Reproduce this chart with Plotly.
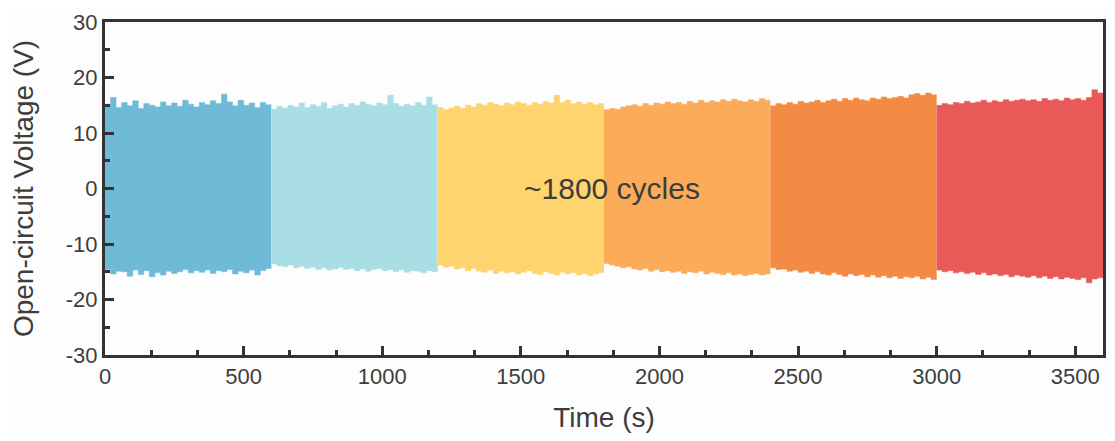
import plotly.graph_objects as go

SEG_LEN = 600
STEP = 20
SEG_STARTS = [0, 600, 1200, 1800, 2400, 3000]
SEG_COLORS = ["#6fbad6", "#a9dee4", "#fdd46e", "#fbab5a", "#f48b44", "#e95957"]

seg1_top = [15.2, 16.4, 14.6, 15.5, 14.9, 15.8, 14.4, 15.3, 15.0, 14.7, 15.6, 14.9, 15.4, 14.8, 15.9, 15.2, 14.7, 15.5, 15.1, 15.8, 15.3, 17.0, 15.6, 14.9, 15.9, 15.0, 15.4, 14.6, 15.5, 15.1]
seg1_bot = [-14.6, -15.4, -14.9, -15.0, -15.8, -14.7, -15.5, -14.8, -15.9, -15.2, -15.6, -14.9, -15.3, -15.0, -14.6, -15.2, -14.8, -15.1, -14.7, -15.3, -14.8, -15.0, -14.6, -15.4, -14.9, -15.2, -14.7, -15.6, -14.8, -14.4]
seg2_top = [14.3, 14.8, 14.5, 15.0, 14.7, 15.4, 14.6, 15.1, 14.8, 15.5, 14.4, 14.9, 15.2, 14.7, 15.3, 15.0, 15.6, 15.2, 14.9, 15.4, 15.1, 16.8, 15.3, 14.8, 15.2, 14.9, 15.5, 15.0, 16.5, 15.1]
seg2_bot = [-13.6, -13.9, -14.1, -13.8, -14.3, -14.0, -14.4, -14.2, -14.6, -14.3, -14.7, -14.5, -14.2, -14.6, -14.4, -14.8, -14.5, -14.9, -14.6, -14.4, -14.8, -14.6, -15.0, -14.7, -15.1, -14.8, -14.9, -15.2, -14.8, -15.0]
seg3_top = [14.6, 14.2, 14.5, 14.8, 14.4, 15.0, 14.7, 15.3, 15.0, 15.5, 15.2, 14.9, 15.4, 15.1, 15.6, 15.3, 15.0, 15.5, 15.2, 15.7, 15.4, 16.8, 15.5, 15.9, 15.3, 15.6, 15.2, 15.5, 15.1, 15.3]
seg3_bot = [-13.8, -14.2, -14.0, -14.5, -14.3, -14.8, -14.4, -14.9, -15.1, -14.7, -15.3, -14.9, -15.2, -15.0, -15.4, -15.1, -14.8, -15.3, -15.5, -15.0, -15.3, -15.6, -15.1, -15.4, -15.2, -15.6, -15.3, -15.7, -15.4, -15.2]
seg4_top = [14.2, 14.4, 14.3, 14.7, 14.9, 15.1, 14.8, 15.3, 15.0, 15.4, 15.2, 15.6, 15.3, 15.5, 15.2, 15.7, 15.4, 15.9, 15.5, 15.8, 15.6, 16.0, 15.7, 16.1, 15.8, 15.6, 16.0, 15.7, 16.2, 15.9]
seg4_bot = [-13.5, -13.8, -14.0, -14.3, -14.1, -14.5, -14.7, -14.4, -14.9, -14.6, -15.0, -14.8, -15.1, -14.9, -15.3, -15.0, -15.2, -14.9, -15.4, -15.1, -15.3, -15.5, -15.2, -15.6, -15.4, -15.7, -15.5, -15.3, -15.6, -15.4]
seg5_top = [14.9, 15.3, 15.1, 15.5, 15.2, 15.7, 15.4, 15.6, 15.9, 15.5, 15.8, 16.1, 15.7, 16.2, 15.9, 16.3, 16.0, 15.8, 16.3, 16.1, 16.5, 16.2, 16.4, 16.6, 16.3, 16.9, 17.1, 16.8, 17.2, 16.9]
seg5_bot = [-14.3, -14.6, -14.5, -14.9, -14.7, -15.1, -14.9, -15.3, -15.0, -15.4, -15.6, -15.2, -15.5, -15.8, -15.4, -15.7, -15.5, -15.9, -15.6, -16.0, -15.7, -16.1, -15.8, -16.2, -15.9, -16.1, -15.8, -16.3, -16.0, -16.4]
seg6_top = [15.0, 15.3, 15.1, 15.5, 15.3, 15.7, 15.4, 15.6, 15.9, 15.5, 15.8, 15.6, 16.0, 15.7, 15.9, 16.1, 15.8, 16.0, 15.7, 16.2, 15.9, 16.1, 15.8, 16.3, 16.0, 16.2, 15.9, 16.4, 17.8, 17.2]
seg6_bot = [-14.7, -15.0, -14.8, -15.2, -15.0, -15.3, -15.1, -15.5, -15.2, -15.6, -15.4, -15.7, -15.5, -15.9, -15.6, -15.8, -16.0, -15.7, -16.1, -15.8, -16.2, -15.9, -16.3, -16.0, -16.2, -16.4, -16.1, -17.0, -16.3, -16.1]

TOPS = [seg1_top, seg2_top, seg3_top, seg4_top, seg5_top, seg6_top]
BOTS = [seg1_bot, seg2_bot, seg3_bot, seg4_bot, seg5_bot, seg6_bot]

X_TICKS = [0, 500, 1000, 1500, 2000, 2500, 3000, 3500]
Y_TICKS = [-30, -20, -10, 0, 10, 20, 30]
Y_TICK_TEXT = ["-30", "-20", "-10", "0", "10", "20", "30"]

FONT = "Arial, Liberation Sans, sans-serif"
TXT = "#3d3d3d"
AX = "#333333"

fig = go.Figure()
for start, top, bot, col in zip(SEG_STARTS, TOPS, BOTS, SEG_COLORS):
    xs = [start + i * STEP for i in range(len(top))] + [start + SEG_LEN]
    fig.add_trace(go.Scatter(x=xs, y=bot + [bot[-1]], mode="lines", line=dict(color=col, width=0.5, shape="hv"),
                             showlegend=False, hoverinfo="skip"))
    fig.add_trace(go.Scatter(x=xs, y=top + [top[-1]], mode="lines", line=dict(color=col, width=0.5, shape="hv"),
                             fill="tonexty", fillcolor=col, showlegend=False, hoverinfo="skip"))

fig.add_annotation(x=1830, y=0, text="~1800 cycles", showarrow=False,
                   font=dict(family=FONT, size=30, color=TXT))

fig.update_xaxes(range=[0, 3600], tickvals=X_TICKS, ticks="inside", ticklen=9, tickwidth=3, tickcolor=AX,
                 minor=dict(dtick=500 / 3, ticks="inside", ticklen=5, tickwidth=3, tickcolor=AX),
                 showline=True, linewidth=3, linecolor=AX, mirror=True, showgrid=False, zeroline=False,
                 tickfont=dict(family=FONT, size=22, color=TXT),
                 title=dict(text="Time (s)", font=dict(family=FONT, size=28, color=TXT), standoff=23))
fig.update_yaxes(range=[-30, 30], tickvals=Y_TICKS, ticktext=Y_TICK_TEXT, ticks="inside", ticklen=9, tickwidth=3,
                 tickcolor=AX,
                 minor=dict(dtick=5, ticks="inside", ticklen=5, tickwidth=3, tickcolor=AX),
                 showline=True, linewidth=3, linecolor=AX, mirror=True, showgrid=False, zeroline=False,
                 tickfont=dict(family=FONT, size=22, color=TXT),
                 title=dict(text="Open-circuit Voltage (V)", font=dict(family=FONT, size=28, color=TXT), standoff=26))

fig.update_layout(width=1099, height=425, margin=dict(l=97, r=1, t=14, b=75),
                  paper_bgcolor="#fdfdfd", plot_bgcolor="#fdfdfd")

fig.write_html("out.html")
